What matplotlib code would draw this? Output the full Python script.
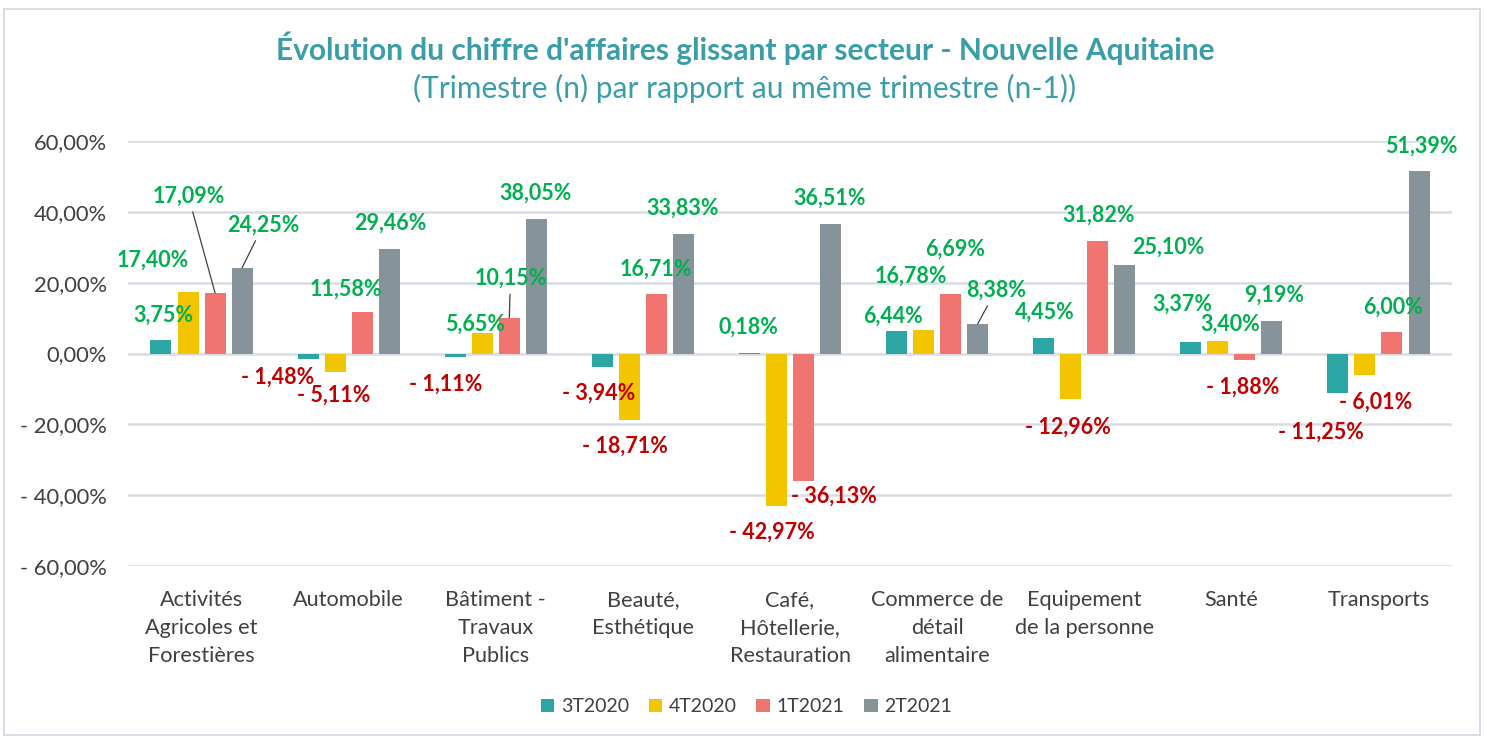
import matplotlib
matplotlib.use("Agg")
import matplotlib.pyplot as plt
import numpy as np
from matplotlib.patches import Rectangle

plt.rcParams['font.family'] = ['Lato', 'DejaVu Sans']

categories = ["Activités\nAgricoles et\nForestières", "Automobile", "Bâtiment -\nTravaux\nPublics",
              "Beauté,\nEsthétique", "Café,\nHôtellerie,\nRestauration", "Commerce de\ndétail\nalimentaire",
              "Equipement\nde la personne", "Santé", "Transports"]
series = ["3T2020", "4T2020", "1T2021", "2T2021"]

t3_2020 = [3.75, -1.48, -1.11, -3.94, 0.18, 6.44, 4.45, 3.37, -11.25]
t4_2020 = [17.40, -5.11, 5.65, -18.71, -42.97, 6.69, -12.96, 3.40, -6.01]
t1_2021 = [17.09, 11.58, 10.15, 16.71, -36.13, 16.78, 31.82, -1.88, 6.00]
t2_2021 = [24.25, 29.46, 38.05, 33.83, 36.51, 8.38, 25.10, 9.19, 51.39]
values = [t3_2020, t4_2020, t1_2021, t2_2021]

colors = ["#2CA6A4", "#F2C500", "#F07470", "#87939A"]

# label anchor positions (x in category units, y in %), moved by hand in the original
label_pos = [
    [(-0.26, 10.9), (0.52, -6.6), (1.66, -8.6), (2.70, -11.2), (3.72, 7.5),
     (4.70, 10.6), (5.73, 11.7), (6.67, 14.0), (7.61, -22.2)],
    [(-0.33, 26.4), (0.90, -11.7), (1.86, 8.3), (2.88, -26.1), (3.88, -50.4),
     (5.12, 29.5), (5.89, -20.8), (6.99, 8.3), (7.98, -13.7)],
    [(-0.09, 44.5), (0.98, 18.2), (2.10, 21.3), (3.09, 23.9), (4.30, -40.2),
     (4.82, 21.9), (6.10, 39.1), (7.08, -9.5), (8.10, 13.1)],
    [(0.42, 36.3), (1.28, 36.9), (2.27, 45.3), (3.27, 41.1), (4.27, 43.9),
     (5.40, 17.9), (6.57, 30.1), (7.29, 16.5), (8.29, 58.6)],
]
# (series, category) with leader lines
leaders = [(2, 0), (3, 0), (2, 2), (3, 5)]

yticks = [60, 40, 20, 0, -20, -40, -60]


def fmt(v):
    s = f"{abs(v):.2f}".replace(".", ",") + "%"
    return ("- " + s) if v < 0 else s


fig = plt.figure(figsize=(14.87, 7.40), dpi=100)
fig.patches.append(Rectangle((0.003, 0.007), 0.992, 0.981, transform=fig.transFigure,
                             fill=False, edgecolor="#D9DCE6", linewidth=1.5))
ax = fig.add_axes([128 / 1487, 1 - 566 / 740, (1452 - 128) / 1487, (566 - 141) / 740])

x = np.arange(len(categories))
step = 0.184
width = 0.143
for i, (name, vals) in enumerate(zip(series, values)):
    ax.bar(x + (i - 1.5) * step, vals, width, color=colors[i], label=name, zorder=3)

for i, vals in enumerate(values):
    for j, v in enumerate(vals):
        tx, ty = label_pos[i][j]
        col = "#00B050" if v >= 0 else "#C00000"
        if (i, j) in leaders:
            ax.annotate(fmt(v), xy=(j + (i - 1.5) * step, v), xytext=(tx, ty),
                        ha="center", va="center", fontsize=15.5, fontweight="bold", color=col,
                        arrowprops=dict(arrowstyle="-", color="#404040", lw=0.9,
                                        shrinkA=2, shrinkB=0), zorder=5)
        else:
            ax.text(tx, ty, fmt(v), ha="center", va="center", fontsize=15.5,
                    fontweight="bold", color=col, zorder=5)

ax.set_xlim(-0.5, len(categories) - 0.5)
ax.set_ylim(-60, 60)
ax.set_yticks(yticks)
ax.set_yticklabels([fmt(t) for t in yticks], fontsize=15.8, color="#404040")
ax.set_xticks(x)
ax.set_xticklabels(categories, fontsize=15.6, color="#404040", linespacing=1.5, va="top")
ax.tick_params(axis="both", length=0)
ax.tick_params(axis="x", pad=17)
ax.tick_params(axis="y", pad=15)
ax.grid(axis="y", color="#D9DCE6", linewidth=1.8, zorder=0)
for s in ax.spines.values():
    s.set_visible(False)

fig.text(0.501, 0.935, "Évolution du chiffre d'affaires glissant par secteur - Nouvelle Aquitaine",
         ha="center", va="center", fontsize=21.5, fontweight="bold", color="#3A9EA9")
fig.text(0.501, 0.881, "(Trimestre (n) par rapport au même trimestre (n-1))",
         ha="center", va="center", fontsize=21.5, color="#3A9EA9")

leg = fig.legend(loc="center", bbox_to_anchor=(0.502, 0.045), ncol=4, frameon=False,
                 fontsize=14, handlelength=0.7, handleheight=0.7, handletextpad=0.35,
                 columnspacing=1.0)
for t in leg.get_texts():
    t.set_color("#404040")

fig.savefig("out.png", dpi=100)
